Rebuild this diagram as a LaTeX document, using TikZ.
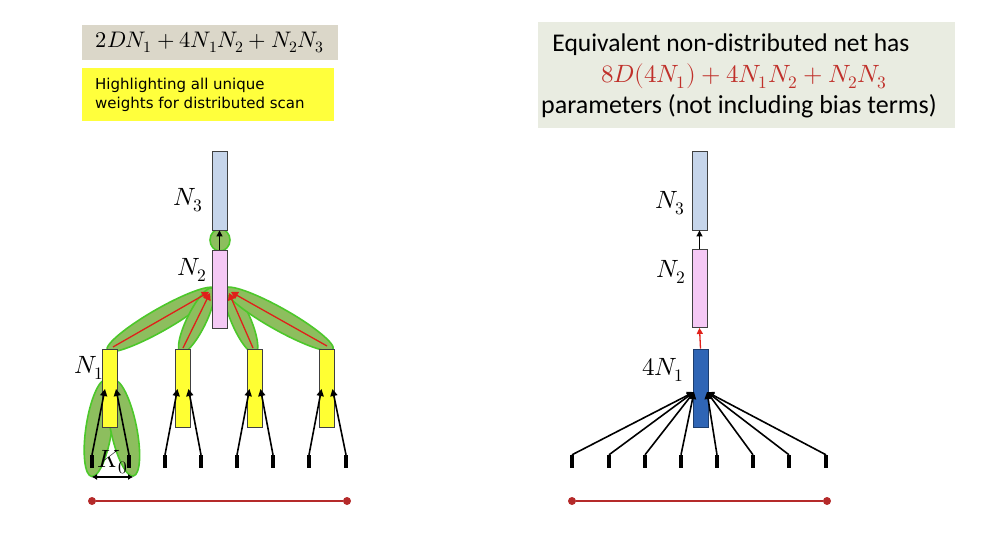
\documentclass[tikz,border=0pt]{standalone}
\usepackage{fontspec}
\usepackage{unicode-math}
\setmathfont{Latin Modern Math}
\newfontfamily\carlito{Carlito}
\newfontfamily\dejavu{DejaVu Sans}
\usetikzlibrary{shapes.geometric,arrows.meta,calc}
\definecolor{greybox}{HTML}{DBD7C9}
\definecolor{yelbox}{HTML}{FFFF3C}
\definecolor{rightbox}{HTML}{E9ECE1}
\definecolor{nthree}{HTML}{C6D5EA}
\definecolor{ntwo}{HTML}{F5C9F5}
\definecolor{nyellow}{HTML}{FFFF33}
\definecolor{nblue}{HTML}{2F65B5}
\definecolor{hlfill}{HTML}{8DBE5E}
\definecolor{hlborder}{HTML}{4CC82A}
\definecolor{redline}{HTML}{B52A2A}
\definecolor{redarrow}{HTML}{E0201A}
\definecolor{mathred}{HTML}{C0302A}
\tikzset{
  layer/.style={draw=black!75, line width=0.9pt, minimum width=15pt, minimum height=78pt, inner sep=0pt},
  inbar/.style={fill=black, minimum width=4pt, minimum height=13pt, inner sep=0pt},
  hl/.style={ellipse, fill=hlfill, draw=hlborder, line width=1.6pt, inner sep=0pt},
  inarrow/.style={line width=1.6pt, -{Triangle[length=7pt,width=7pt]}},
  redarr/.style={redarrow, line width=1.3pt, -{Triangle[length=7pt,width=8pt]}},
  lbl/.style={font=\fontsize{25}{27}\selectfont, inner sep=0pt},
  dot/.style={circle, fill=redline, minimum size=8pt, inner sep=0pt},
  tl/.style={redline, line width=2.4pt}
}
\begin{document}
\begin{tikzpicture}[x=1pt,y=-1pt]
\useasboundingbox (0,0) rectangle (988,548);
% title boxes
\node[fill=greybox, minimum width=256pt, minimum height=35pt, inner sep=0pt] (tgrey) at (210,42.5)
  {\fontsize{22.5}{24}\selectfont $2DN_1+4N_1N_2+N_2N_3$};
\node[fill=yelbox, minimum width=252pt, minimum height=53pt, inner sep=0pt] (tyel) at (208,94.5) {};
\node[anchor=west, align=left, inner sep=0pt, font=\dejavu\fontsize{15}{19}\selectfont] (tyeltext) at (95,94.5)
  {Highlighting all unique\\weights for distributed scan};
\node[fill=rightbox, minimum width=417pt, minimum height=106pt, inner sep=0pt] (tright) at (746.5,75) {};
\node[font=\carlito\fontsize{25.5}{27}\selectfont, inner sep=0pt] (r1) at (731,45) {Equivalent non-distributed net has};
\node[font=\fontsize{25}{27}\selectfont, text=mathred, inner sep=0pt] (r2) at (744,76) {$8D(4N_1)+4N_1N_2+N_2N_3$};
\node[font=\carlito\fontsize{26}{28}\selectfont, inner sep=0pt] (r3) at (739,106) {parameters (not including bias terms)};

% ---------- left network ----------
% highlights
\coordinate (a1s) at (113,347); \coordinate (a1e) at (209,292);
\coordinate (a2s) at (183,348); \coordinate (a2e) at (210,293);
\coordinate (a3s) at (253,348); \coordinate (a3e) at (229,293);
\coordinate (a4s) at (327,346); \coordinate (a4e) at (231,292);
\path (a1s) -- (a1e) node[midway, sloped, hl, minimum width=124pt, minimum height=22pt] (h1) {};
\path (a2s) -- (a2e) node[midway, sloped, hl, minimum width=72pt, minimum height=19pt] (h2) {};
\path (a3s) -- (a3e) node[midway, sloped, hl, minimum width=72pt, minimum height=19pt] (h3) {};
\path (a4s) -- (a4e) node[midway, sloped, hl, minimum width=124pt, minimum height=22pt] (h4) {};
\node[hl, minimum width=20pt, minimum height=22pt] (h0) at (220,240) {};
\path (92,474) -- (106,382) node[midway, sloped, hl, minimum width=98pt, minimum height=26pt] (hb1) {};
\path (133,474) -- (114,382) node[midway, sloped, hl, minimum width=98pt, minimum height=26pt] (hb2) {};

% layers
\node[layer, fill=nthree, minimum height=79pt] (ln3) at (219.5,190.5) {};
\node[layer, fill=ntwo] (ln2) at (219.5,289) {};
\node[layer, fill=nyellow] (ln1a) at (110,388) {};
\node[layer, fill=nyellow] (ln1b) at (182.5,388) {};
\node[layer, fill=nyellow] (ln1c) at (254.5,388) {};
\node[layer, fill=nyellow] (ln1d) at (326.5,388) {};
\node[lbl] (lN3) at (188,200) {$N_3$};
\node[lbl] (lN2) at (192,270) {$N_2$};
\node[lbl] (lN1) at (89,368) {$N_1$};

% inputs
\foreach \i/\x in {1/92,2/129,3/165,4/201,5/237,6/273,7/309,8/346}
  \node[inbar] (li\i) at (\x,461.5) {};

% arrows
\draw[line width=1.2pt, -{Triangle[length=6pt,width=6pt]}] (ln2.north) -- (ln3.south);
\draw[redarr] (a1s) -- (a1e);
\draw[redarr] (a2s) -- (a2e);
\draw[redarr] (a3s) -- (a3e);
\draw[redarr] (a4s) -- (a4e);
\foreach \i/\j/\b in {1/2/ln1a,3/4/ln1b,5/6/ln1c,7/8/ln1d}{
  \draw[inarrow] (li\i.north) -- ($(\b.center)+(-5,1)$);
  \draw[inarrow] (li\j.north) -- ($(\b.center)+(6,1)$);
}
\node[lbl] (k0) at (113,462) {$K_0$};
\coordinate (k0l) at (92,477); \coordinate (k0r) at (133,477);
\draw[line width=1.5pt, {Latex[length=5pt,width=6pt]}-{Latex[length=5pt,width=6pt]}] (k0l) -- (k0r);

\node[dot] (ld1) at (92,501) {};
\node[dot] (ld2) at (347,501) {};
\draw[tl] (ld1) -- (ld2);

% ---------- right network ----------
\node[layer, fill=nthree, minimum height=79pt] (rn3) at (699.5,190.5) {};
\node[layer, fill=ntwo] (rn2) at (699.5,288.5) {};
\node[layer, fill=nblue, draw=nblue!60!black] (rn1) at (700.5,388) {};
\node[lbl] (rN3) at (670,203) {$N_3$};
\node[lbl] (rN2) at (671,272) {$N_2$};
\node[lbl] (rN1) at (663,370) {$4N_1$};
\draw[line width=1.1pt, -{Triangle[length=6pt,width=6pt]}] (rn2.north) -- (rn3.south);
\draw[redarrow, line width=1.3pt, -{Triangle[length=6pt,width=6pt]}] (rn1.north) -- (rn2.south);
\foreach \i/\x in {1/572,2/609,3/645,4/681,5/717,6/753,7/789,8/826}
  \node[inbar] (ri\i) at (\x,461.5) {};
\coordinate (rl) at (694,392); \coordinate (rr) at (707,392);
\foreach \i in {1,2,3,4} \draw[inarrow] (ri\i.north) -- (rl);
\foreach \i in {5,6,7,8} \draw[inarrow] (ri\i.north) -- (rr);

\node[dot] (rd1) at (572,501) {};
\node[dot] (rd2) at (827,501) {};
\draw[tl] (rd1) -- (rd2);
\end{tikzpicture}
\end{document}
